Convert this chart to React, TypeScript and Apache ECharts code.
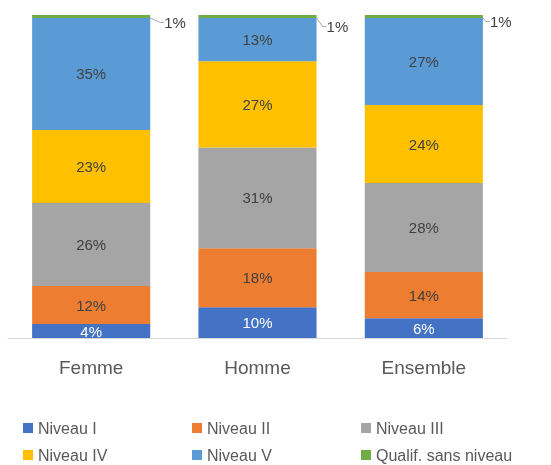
import React, { useEffect, useRef } from "react";
import * as echarts from "echarts";

const categories = ["Femme", "Homme", "Ensemble"];
const seriesNames = ["Niveau I", "Niveau II", "Niveau III", "Niveau IV", "Niveau V", "Qualif. sans niveau"];
const niveauI = [4.3, 9.5, 6.1];
const niveauII = [11.8, 18.3, 14.3];
const niveauIII = [25.7, 31.2, 27.6];
const niveauIV = [22.6, 26.7, 24.1];
const niveauV = [34.7, 13.4, 27.0];
const qualif = [0.9, 0.9, 0.9];
const seriesValues = [niveauI, niveauII, niveauIII, niveauIV, niveauV, qualif];
const colors = ["#4472C4", "#ED7D31", "#A5A5A5", "#FFC000", "#5B9BD5", "#70AD47"];

const FONT = "Liberation Sans";
const leaderShift = [
  { dx: 9, dy: 6 },
  { dx: 5, dy: 10 },
  { dx: 2, dy: 5 },
];

export default function App() {
  const ref = useRef<HTMLDivElement>(null);
  useEffect(() => {
    if (!ref.current) return;
    const chart = echarts.init(ref.current, null, { renderer: "svg" });
    const series: any[] = seriesNames.map((name, i) => {
      const isLast = i === seriesNames.length - 1;
      const s: any = {
        name,
        type: "bar",
        stack: "total",
        data: seriesValues[i],
        barCategoryGap: "29%",
        itemStyle: { color: colors[i] },
        label: {
          show: true,
          position: isLast ? "right" : "inside",
          distance: 5,
          formatter: (p: any) => Math.round(p.value) + "%",
          color: i === 0 ? "#FFFFFF" : "#404040",
          fontSize: 15,
          fontFamily: FONT,
        },
      };
      if (isLast) {
        s.labelLayout = (p: any) => leaderShift[p.dataIndex];
        s.labelLine = { show: true, length2: 4, lineStyle: { color: "#A6A6A6", width: 1 } };
      }
      return s;
    });
    const lefts = [23, 192, 361];
    const tops = [420, 447];
    const legends = seriesNames.map((name, i) => ({
      data: [name],
      orient: "horizontal",
      left: lefts[i % 3],
      top: tops[Math.floor(i / 3)],
      itemWidth: 10,
      itemHeight: 10,
      icon: "rect",
      padding: 0,
      textStyle: { color: "#595959", fontSize: 16, fontFamily: FONT, lineHeight: 16 },
    }));
    chart.setOption({
      animation: false,
      color: colors,
      grid: { left: 8, right: 44, top: 15, bottom: 127, containLabel: false },
      xAxis: {
        type: "category",
        data: categories,
        axisLine: { lineStyle: { color: "#D9D9D9", width: 1 } },
        axisTick: { show: false },
        axisLabel: { color: "#595959", fontSize: 19, fontFamily: FONT, margin: 20 },
      },
      yAxis: { type: "value", min: 0, max: 100, show: false },
      legend: legends,
      series,
    });
    return () => chart.dispose();
  }, []);
  return <div ref={ref} style={{ position: "fixed", left: 0, top: 0, width: 551, height: 465 }} />;
}
